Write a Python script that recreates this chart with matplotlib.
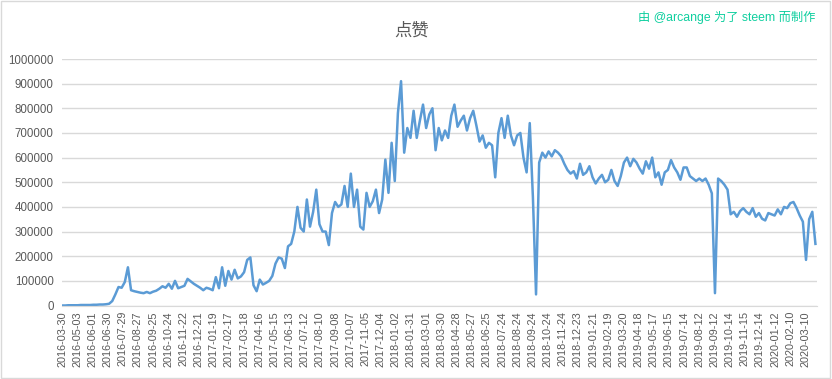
import numpy as np
import matplotlib
matplotlib.use("Agg")
import matplotlib.pyplot as plt

plt.rcParams['font.family'] = ['Liberation Sans', 'Noto Sans CJK SC', 'DejaVu Sans']

# valores (miles), una muestra cada 6 dias
paso = 6
votos_miles = [
    0, 0, 1, 1, 1, 1, 2, 2, 2, 2,
    3, 3, 4, 4, 5, 7, 18, 45, 75, 72,
    95, 155, 62, 58, 55, 52, 50, 55, 50, 56,
    60, 68, 78, 72, 88, 68, 100, 70, 75, 80,
    108, 98, 88, 80, 72, 62, 72, 68, 62, 115,
    70, 155, 80, 140, 105, 145, 110, 118, 135, 185,
    195, 82, 58, 105, 85, 92, 100, 120, 170, 195,
    190, 152, 240, 250, 300, 400, 315, 300, 430, 320,
    380, 470, 330, 300, 300, 245, 375, 420, 400, 410,
    485, 400, 535, 400, 470, 320, 308, 457, 400, 423,
    470, 375, 430, 592, 457, 660, 505, 780, 910, 620,
    720, 680, 790, 680, 750, 815, 720, 775, 800, 630,
    720, 670, 710, 680, 770, 815, 725, 750, 770, 710,
    760, 790, 730, 665, 690, 640, 660, 650, 520, 700,
    760, 680, 770, 690, 650, 690, 700, 600, 540, 740,
    440, 45, 580, 620, 600, 625, 605, 630, 620, 605,
    575, 550, 535, 545, 515, 575, 530, 540, 565, 520,
    495, 515, 530, 500, 510, 550, 505, 485, 525, 580,
    600, 565, 595, 580, 555, 535, 585, 555, 600, 520,
    540, 490, 540, 550, 590, 560, 540, 510, 560, 560,
    525, 515, 505, 515, 505, 515, 490, 455, 50, 515,
    505, 490, 470, 370, 380, 360, 383, 395, 380, 370,
    395, 360, 375, 352, 345, 375, 370, 365, 390, 370,
    400, 395, 415, 420, 395, 365, 340, 185, 350, 380, 250,
]

etiquetas = [
    "2016-03-30", "2016-05-03", "2016-06-01", "2016-06-30", "2016-07-29",
    "2016-08-27", "2016-09-25", "2016-10-24", "2016-11-22", "2016-12-21",
    "2017-01-19", "2017-02-17", "2017-03-18", "2017-04-16", "2017-05-15",
    "2017-06-13", "2017-07-12", "2017-08-10", "2017-09-08", "2017-10-07",
    "2017-11-05", "2017-12-04", "2018-01-02", "2018-01-31", "2018-03-01",
    "2018-03-30", "2018-04-28", "2018-05-27", "2018-06-25", "2018-07-24",
    "2018-08-24", "2018-09-24", "2018-10-24", "2018-11-24", "2018-12-23",
    "2019-01-21", "2019-02-19", "2019-03-20", "2019-04-18", "2019-05-17",
    "2019-06-15", "2019-07-14", "2019-08-12", "2019-09-12", "2019-10-14",
    "2019-11-15", "2019-12-14", "2020-01-12", "2020-02-10", "2020-03-10",
]
cada = 29

gris = '#d9d9d9'
texto = '#595959'

votos = np.array(votos_miles) * 1000
x = np.arange(len(votos)) * paso

fig = plt.figure(figsize=(8.32, 3.79), dpi=100)
ax = fig.add_axes([62 / 832, 1 - 305.5 / 379, 755 / 832, 246.5 / 379])

ax.plot(x, votos, color='#5b9bd5', lw=1.8)

ax.set_xlim(0, 1443)
ax.set_ylim(0, 1000000)
ax.set_yticks(np.arange(0, 1000001, 100000))
ax.set_yticklabels([str(v) for v in range(0, 1000001, 100000)])
ax.set_xticks(np.arange(len(etiquetas)) * cada)
ax.set_xticklabels(etiquetas, rotation=90)

ax.grid(axis='y', color=gris, lw=1)
ax.set_axisbelow(True)
for lado in ['top', 'right', 'left']:
    ax.spines[lado].set_visible(False)
ax.spines['bottom'].set_color(gris)
ax.tick_params(length=0, colors=texto, labelsize=8.3)
ax.tick_params(axis='x', labelsize=7.8, pad=4)
ax.tick_params(axis='y', pad=6)

fig.text(0.495, 1 - 30 / 379, '点赞', ha='center', va='center', fontsize=12.5, color=texto)
fig.text(815 / 832, 1 - 17 / 379, '由 @arcange 为了 steem 而制作', ha='right', va='center',
         fontsize=8.8, color='#0fcf9f')

fig.add_artist(plt.Rectangle((0.001, 0.002), 0.997, 0.995, transform=fig.transFigure,
                             fill=False, edgecolor=gris, lw=1))

fig.savefig('out.png', dpi=100)
